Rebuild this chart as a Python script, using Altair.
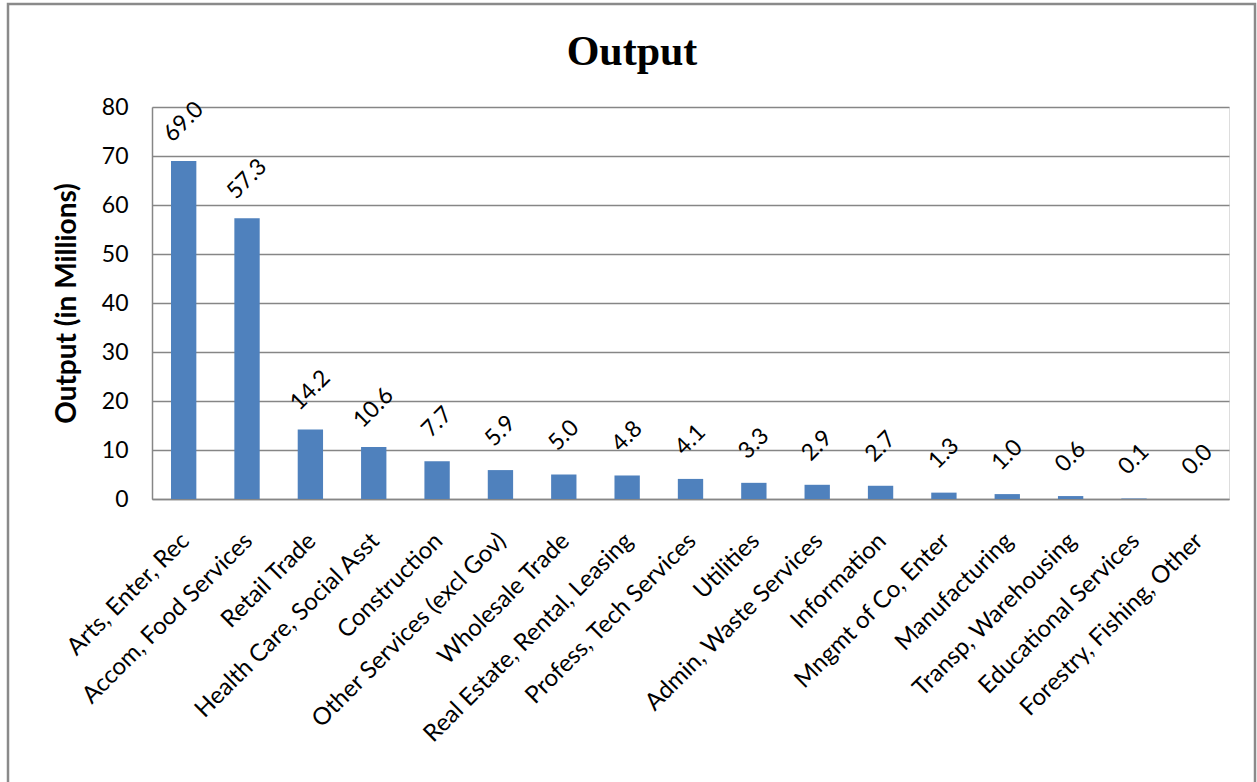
import altair as alt
import pandas as pd

# Industry sectors and their output (in millions)
sectors = [
    "Arts, Enter, Rec",
    "Accom, Food Services",
    "Retail Trade",
    "Health Care, Social Asst",
    "Construction",
    "Other Services (excl Gov)",
    "Wholesale Trade",
    "Real Estate, Rental, Leasing",
    "Profess, Tech Services",
    "Utilities",
    "Admin, Waste Services",
    "Information",
    "Mngmt of Co, Enter",
    "Manufacturing",
    "Transp, Warehousing",
    "Educational Services",
    "Forestry, Fishing, Other",
]
output = [69.0, 57.3, 14.2, 10.6, 7.7, 5.9, 5.0, 4.8, 4.1, 3.3, 2.9, 2.7, 1.3, 1.0, 0.6, 0.1, 0.0]
chart_title = "Output"

df = pd.DataFrame({"sector": sectors, "output": output})

PLOT_W, PLOT_H = 1077, 392
LEFT, TOP = 152, 107
FONT = "Lato"
GRID = "#868686"

x_enc = alt.X(
    "sector:N",
    sort=sectors,
    title=None,
    scale=alt.Scale(paddingInner=0.6, paddingOuter=0.3),
    axis=alt.Axis(
        labelAngle=-45,
        labelAlign="right",
        labelBaseline="middle",
        labelFont=FONT,
        labelFontSize=24,
        labelColor="black",
        labelPadding=38,
        labelOffset=2,
        labelLimit=500,
        labelOverlap=False,
        ticks=False,
        domainColor=GRID,
        domainWidth=1.5,
    ),
)

y_enc = alt.Y(
    "output:Q",
    title="Output (in Millions)",
    scale=alt.Scale(domain=[0, 80], nice=False),
    axis=alt.Axis(
        values=list(range(0, 90, 10)),
        labelFont=FONT,
        labelFontSize=23,
        labelColor="black",
        labelPadding=24,
        ticks=False,
        grid=True,
        gridColor=GRID,
        gridWidth=1.5,
        domainColor=GRID,
        domainWidth=1.5,
        titleFont=FONT,
        titleFontSize=28,
        titleFontWeight="bold",
        titleColor="black",
        titlePadding=20,
    ),
)

bars = alt.Chart(df).mark_bar(color="#4F81BD").encode(x=x_enc, y=y_enc)

labels = alt.Chart(df).mark_text(
    angle=315,
    align="center",
    baseline="middle",
    font=FONT,
    fontSize=23,
    color="black",
    yOffset=-39,
).encode(
    x=alt.X("sector:N", sort=sectors),
    y="output:Q",
    text=alt.Text("output:Q", format=".1f"),
)

one_row = pd.DataFrame({"k": [0]})

# outer frame around the whole figure
frame = alt.Chart(one_row).mark_rect(
    fill=None, stroke="#8a8a8a", strokeWidth=2.5
).encode(
    x=alt.value(8 - LEFT),
    x2=alt.value(1255 - LEFT),
    y=alt.value(4 - TOP),
    y2=alt.value(800 - TOP),
)

# chart heading, centred on the whole figure
heading = alt.Chart(one_row).mark_text(
    font="Liberation Serif",
    fontSize=42,
    fontWeight="bold",
    color="black",
    align="center",
    baseline="alphabetic",
).encode(
    x=alt.value(632 - LEFT),
    y=alt.value(65 - TOP),
    text=alt.value(chart_title),
)

chart = (
    alt.layer(frame, heading, bars, labels)
    .properties(
        width=PLOT_W,
        height=PLOT_H,
        autosize=alt.AutoSizeParams(type="none"),
        padding={"left": LEFT, "top": TOP, "right": 1257 - LEFT - PLOT_W, "bottom": 782 - TOP - PLOT_H},
    )
    .configure_view(stroke=None)
    .configure(background="white")
)

chart.save("out.html", embed_options={"renderer": "svg", "actions": False})
